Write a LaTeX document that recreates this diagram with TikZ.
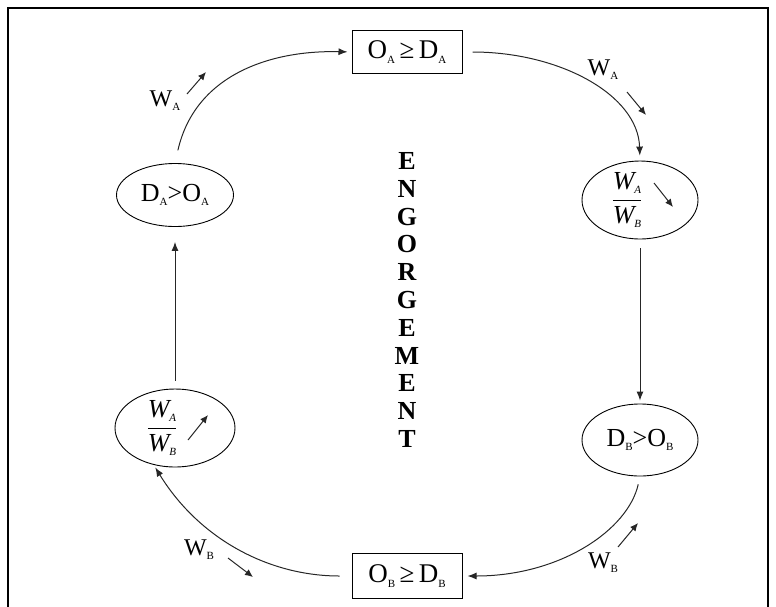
\documentclass[tikz,border=0pt]{standalone}
\usepackage{fontspec}
\setmainfont{Liberation Serif}
\usetikzlibrary{shapes.geometric,arrows.meta,calc}
\newcommand\sbx[1]{\raisebox{-0.35ex}{\fontsize{11}{11}\selectfont #1}}
\newcommand\wfrac{$\displaystyle\frac{\hbox{\itshape W\sbx{A}}}{\hbox{\itshape W\sbx{B}}}$}
\begin{document}
\begin{tikzpicture}[x=1pt,y=-1pt,
  boxnode/.style={draw,line width=1pt,minimum width=110pt,minimum height=43pt,inner sep=0pt,font=\fontsize{27}{29}\selectfont},
  ellnode/.style={draw,ellipse,line width=0.9pt,minimum width=116pt,minimum height=66pt,inner sep=0pt,font=\fontsize{26}{28}\selectfont},
  fracell/.style={ellnode,minimum height=73pt,font=\fontsize{26}{28}\selectfont},
  wlabel/.style={inner sep=0pt,font=\fontsize{24}{26}\selectfont},
  conn/.style={line width=1pt,black!85,-{Latex[length=9pt,width=7pt]}},
  smallarr/.style={line width=1pt,black!85,-{Latex[length=8pt,width=7pt]}}]
\useasboundingbox (0,0) rectangle (776,606);
\clip (0,0) rectangle (776,606);
\draw[line width=1.6pt] (8,8) rectangle (768,650);

\node[boxnode] (oa) at (407,52) {O\sbx{A}\,≥\,D\sbx{A}};
\node[boxnode,minimum height=45pt] (ob) at (407,576) {O\sbx{B}\,≥\,D\sbx{B}};
\node[ellnode,minimum width=117pt,minimum height=63pt] (da) at (175,195) {D\sbx{A}>O\sbx{A}};
\node[ellnode,minimum height=72pt] (db) at (640,440) {D\sbx{B}>O\sbx{B}};
\node[fracell] (r1) at (640,200) {\wfrac\hspace*{26pt}};
\node[fracell,minimum width=120pt] (l1) at (175,428) {\wfrac\hspace*{26pt}};

\node[inner sep=0pt,align=center,font=\fontsize{26}{27.8}\selectfont\bfseries] (eng) at (407,300)
  {E\\N\\G\\O\\R\\G\\E\\M\\E\\N\\T};

\node[wlabel] (wa1) at (165,101) {W\sbx{A}};
\node[wlabel] (wa2) at (603,70) {W\sbx{A}};
\node[wlabel] (wb1) at (603,563) {W\sbx{B}};
\node[wlabel] (wb2) at (199,550) {W\sbx{B}};

% inner arrows
\coordinate (r1s) at ($(r1)+(14,-17)$);
\coordinate (r1e) at ($(r1)+(33,7)$);
\coordinate (l1s) at ($(l1)+(13,12)$);
\coordinate (l1e) at ($(l1)+(33,-13)$);
\draw[smallarr] (r1s) -- (r1e);
\draw[smallarr] (l1s) -- (l1e);

% label arrows
\coordinate (a1s) at (187,94);  \coordinate (a1e) at (206,72);
\coordinate (a2s) at (627,92);  \coordinate (a2e) at (646,115);
\coordinate (a3s) at (618,547); \coordinate (a3e) at (638,523);
\coordinate (a4s) at (228,558); \coordinate (a4e) at (253,577);
\draw[smallarr] (a1s) -- (a1e);
\draw[smallarr] (a2s) -- (a2e);
\draw[smallarr] (a3s) -- (a3e);
\draw[smallarr] (a4s) -- (a4e);

% cycle connectors
\draw[conn,shorten <=13pt,shorten >=4pt] (da.north) .. controls (195,75) and (270,50) .. (oa.west);
\draw[conn,shorten <=10pt,shorten >=5pt] (oa.east) .. controls (560,52) and (638,95) .. (r1.north);
\draw[conn,shorten <=9pt,shorten >=3pt] (r1.south) -- (db.north);
\draw[conn,shorten <=8pt,shorten >=5pt] (db.south) .. controls (628,530) and (560,576) .. (ob.east);
\draw[conn,shorten <=12pt,shorten >=3pt] (ob.west) .. controls (270,576) and (200,540) .. (l1.-120);
\draw[conn,shorten <=8pt,shorten >=15pt] (l1.north) -- (da.south);
\end{tikzpicture}
\end{document}
